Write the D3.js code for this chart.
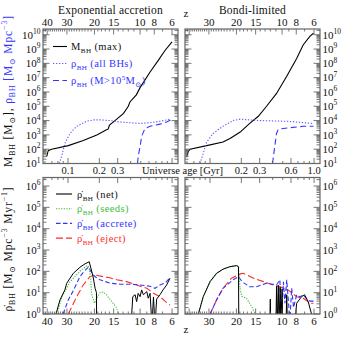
<!DOCTYPE html>
<html><head><meta charset="utf-8">
<script src="https://cdn.jsdelivr.net/npm/d3@7"></script>
<style>body{margin:0;background:#fff} svg{display:block} text{font-family:"Liberation Serif","DejaVu Serif",serif;fill:#111}</style>
</head><body><svg id="c" width="351" height="351"></svg>
<script>
// ---------- tick labels / categories ----------
const panelTitles = ["Exponential accretion", "Bondi-limited"];
const zTickLabelsLeft = [40, 30, 20, 15, 10, 8, 6];
const zTickLabelsRight = [30, 20, 15, 10, 8, 6];
const ageTickLabelsLeft = [0.1, 0.2, 0.3];
const ageTickLabelsRight = [0.2, 0.3, 0.6, 1.0];
const topDecades = [1,2,3,4,5,6,7,8,9,10];
const botDecades = [0,1,2,3,4,5,6];

// ---------- series: [z, value] ----------
// Exponential accretion, top
const expMbhMax = [[40.3,30],[39.4,79],[37.5,100],[29.4,178],[23.6,398],[19.3,1000],[16.7,2240],[16.3,2510],[16.0,4470],[15.9,5010],[14.7,1.0e4],[12.9,3.16e4],[12.0,1.0e5],[11.7,2.0e5],[10.6,6.3e5],[10.0,2.0e6],[8.55,2.5e7],[7.5,1.6e8],[6.73,7.9e8],[6.0,3.2e9]];
const expRhoAll = [[33.6,10],[32.4,32],[30.9,251],[28.7,1260],[26.0,3980],[22.5,8900],[20.3,1.12e4],[18.4,1.12e4],[15.9,1.0e4],[13.6,7900],[11.7,7100],[10.0,6300],[8.55,7100],[7.3,8900],[6.2,1.26e4]];
const expRhoBig = [[10.4,10],[10.3,32],[10.0,158],[9.76,794],[9.26,2820],[8.55,3980],[7.3,5620],[6.55,7940],[6.0,1.26e4]];
// Bondi-limited, top
const bonMbhMax = [[41.5,30],[40.6,68],[39.5,100],[31.0,178],[24.4,316],[22.0,562],[18.9,1580],[16.4,6300],[14.4,2.0e4],[12.7,1.0e5],[10.9,7.9e5],[9.3,1.26e7],[7.95,2.2e8],[7.15,2.0e9],[6.4,7.9e9],[6.05,1.26e10]];
const bonRhoAll = [[34.2,10],[32.6,50],[31.0,316],[28.2,1260],[24.4,3980],[21.0,1.0e4],[18.9,1.26e4],[16.4,1.12e4],[14.1,1.0e4],[9.3,8900],[6.05,6300]];
const bonRhoBig = [[11.6,10],[11.2,158],[10.9,1260],[10.6,2510],[8.85,3160],[7.15,3980],[6.05,3980]];
// Exponential accretion, bottom (rates)
const expNet = [[35.2,1],[33.2,4.6],[30.9,13.5],[30.1,27.5],[27.3,81],[24.8,155],[23.0,224],[21.6,282],[20.4,56],[19.8,16],[19.4,10],[19.35,0.3],
  [11.5,0.3],[11.2,6.5],[10.8,8],[10.55,3.8],[10.3,9.3],[10.0,6.5],[9.76,13.5],[9.5,8],[9.0,11.2],[8.8,5.5],[8.55,9.3],[8.3,0.3],[8.1,6.3],[7.9,0.3],[7.7,5],[7.3,8],[6.95,13.5],[6.55,23],[6.2,48]];
const expSeeds = [[34.7,1],[32.3,6.3],[28.7,32],[24.8,100],[22.3,190],[21.6,150],[21.1,40],[20.9,9.3],[20.0,3.2],[19.3,5.5],[18.4,10],[17.5,10.7],[16.7,7.8],[15.4,3.8],[14.3,1.9],[14.0,1]];
const expAccrete = [[31.7,1],[29.4,4.6],[27.3,12.6],[24.8,56],[23.0,112],[21.9,158],[21.1,100],[19.8,56],[18.4,40],[15.9,28],[13.6,25],[11.7,25],[10.0,23],[8.55,20],[7.9,16],[7.3,23],[6.73,28],[6.2,50]];
const expEject = [[29.4,1],[26.0,6.5],[23.6,23],[21.4,56],[19.8,68],[17.5,56],[15.9,50],[14.3,40],[12.3,33],[10.55,23],[9.0,16],[8.1,9.3],[7.3,6.5],[6.73,4],[6.2,2.6]];
// Bondi-limited, bottom (rates)
const bonNet = [[35.0,1],[32.6,6.5],[29.5,33],[26.8,81],[24.4,126],[22.0,166],[19.9,186],[19.4,166],[19.3,0.3],
  [12.1,0.3],[12.0,5],[11.9,0.3],[11.0,0.3],[10.9,20],[10.8,0.3],[10.6,22],[10.5,0.3],[10.3,18],[10.2,0.3],[10.0,15],[9.9,0.3],[9.4,0.3],[9.3,8],[9.2,0.3],
  [8.2,0.3],[7.95,3.2],[7.35,6.5],[7.0,8],[6.6,3.8],[6.25,1]];
const bonSeeds = [[35.0,1],[32.6,6.5],[29.5,33],[26.8,81],[24.4,126],[22.0,166],[19.9,186],[19.4,166],[18.9,13.5],[18.4,6.5],[17.2,5.5],[15.9,2.2],[15.1,1]];
const bonAccrete = [[29.5,1],[26.8,4.6],[24.4,16],[21.0,40],[19.4,56],[18.4,33],[16.4,19],[14.8,19],[12.7,28],[10.9,23],[10.35,40],[10.1,0.5],[9.8,32],[9.56,3.2],[9.3,40],[8.85,0.5],[8.6,16],[8.35,2],[7.95,8],[7.55,6.3],[7.15,8],[6.75,5],[6.4,4],[6.05,4]];
const bonEject = [[29.5,1],[26.8,4.6],[24.4,16],[21.5,48],[18.9,76],[18.1,81],[15.5,48],[13.3,33],[11.5,23],[10.35,19],[9.1,13.5],[7.95,6.5],[7.15,5.5],[6.4,3.2],[6.05,3.2]];

// ---------- layout ----------
const svg = d3.select("#c");
const PW = 135;
const colX = [43, 185];
const rowY = [29, 177.5];
const rowH = [134.5, 136.5];
const xz = d3.scaleLog().domain([43.5, 6.43]).range([0, PW]);
const xAge = d3.scaleLog().domain([0.0575, 1.14]).range([0, PW]);
const yTop = d3.scaleLog().domain([10, Math.pow(10, 10.4)]).range([rowH[0], 0]);
const yBot = d3.scaleLog().domain([1, Math.pow(10, 6.4)]).range([rowH[1], 0]);
const yS = [yTop, yBot];

const BLUE = "#3434ff", BLUE2 = "#5c5cff", GREEN = "#3cbb3c", RED = "#ff2a2a";
const FS = 11;

function rich(parent, x, y, segs, fs, anchor, transform, ls) {
  const t = parent.append("text").attr("x", x).attr("y", y).attr("font-size", fs)
    .attr("text-anchor", anchor || "start");
  if (transform) t.attr("transform", transform);
  if (ls) t.attr("letter-spacing", ls);
  let off = 0;
  segs.forEach(s => {
    const k = s[1] || "n";
    const target = k === "sub" ? fs * 0.3 : k === "sup" ? -fs * 0.42 : 0;
    const ts = t.append("tspan").text(s[0]).attr("dy", target - off);
    if (k !== "n") ts.attr("font-size", fs * 0.68);
    if (s[2]) ts.style("fill", s[2]);
    off = target;
  });
  return t;
}

const series = [
  [ [expMbhMax, "#000", null, 1.1], [expRhoAll, BLUE2, "1.3,1.7", 1.1], [expRhoBig, BLUE, "6,3.5", 1.1] ],
  [ [bonMbhMax, "#000", null, 1.1], [bonRhoAll, BLUE2, "1.3,1.7", 1.1], [bonRhoBig, BLUE, "6,3.5", 1.1] ],
  [ [expEject, RED, "7,3", 1.1], [expAccrete, BLUE, "4.5,2.5", 1.1], [expSeeds, GREEN, "1.2,1.4", 1.1], [expNet, "#000", null, 1] ],
  [ [bonEject, RED, "7,3", 1.1], [bonAccrete, BLUE, "4.5,2.5", 1.1], [bonSeeds, GREEN, "1.2,1.4", 1.1], [bonNet, "#000", null, 1] ]
];

const defs = svg.append("defs");
[0, 1].forEach(r => [0, 1].forEach(c => {
  const id = "clip" + r + c;
  defs.append("clipPath").attr("id", id).append("rect")
    .attr("x", 0).attr("y", 0).attr("width", PW).attr("height", rowH[r]);
  const g = svg.append("g").attr("transform", `translate(${colX[c]},${rowY[r]})`);
  const y = yS[r];
  const h = rowH[r];
  const plot = g.append("g").attr("clip-path", `url(#${id})`);
  const line = d3.line().x(d => xz(1 + d[0])).y(d => y(d[1]));
  series[r * 2 + c].forEach(s => {
    plot.append("path").datum(s[0]).attr("d", line).attr("fill", "none")
      .attr("stroke", s[1]).attr("stroke-width", s[3])
      .attr("stroke-dasharray", s[2]);
  });
  // ticks
  const tk = g.append("g").attr("stroke", "#555").attr("stroke-width", 0.8);
  const dom = y.domain();
  const e0 = Math.floor(Math.log10(dom[0])), e1 = Math.ceil(Math.log10(dom[1]));
  for (let e = e0; e <= e1; e++) for (let m = 1; m <= 9; m++) {
    const v = m * Math.pow(10, e);
    if (v < dom[0] || v > dom[1]) continue;
    const yy = y(v), L = m === 1 ? 6.5 : 3.5;
    tk.append("line").attr("x1", 0).attr("x2", L).attr("y1", yy).attr("y2", yy);
    tk.append("line").attr("x1", PW - L).attr("x2", PW).attr("y1", yy).attr("y2", yy);
  }
  const zMajor = c === 0 ? zTickLabelsLeft : zTickLabelsRight;
  for (let z = 6; z <= 43; z++) {
    const xx = xz(1 + z);
    if (xx < 0 || xx > PW) continue;
    const L = zMajor.includes(z) || z % 10 === 0 ? 5.5 : 2.5;
    if (r === 0) tk.append("line").attr("x1", xx).attr("x2", xx).attr("y1", 0).attr("y2", L);
    else tk.append("line").attr("x1", xx).attr("x2", xx).attr("y1", h - L).attr("y2", h);
  }
  const ageMajor = c === 0 ? ageTickLabelsLeft : ageTickLabelsRight;
  [0.06,0.07,0.08,0.09,0.1,0.2,0.3,0.4,0.5,0.6,0.7,0.8,0.9,1.0].forEach(a => {
    const xx = xAge(a);
    const L = ageMajor.includes(a) || a === 0.1 || a === 1.0 ? 5.5 : 2.5;
    if (r === 0) tk.append("line").attr("x1", xx).attr("x2", xx).attr("y1", h - L).attr("y2", h);
    else tk.append("line").attr("x1", xx).attr("x2", xx).attr("y1", 0).attr("y2", L);
  });
  g.append("rect").attr("width", PW).attr("height", h).attr("fill", "none")
    .attr("stroke", "#666").attr("stroke-width", 1.2);

  // y tick labels
  const decs = r === 0 ? topDecades : botDecades;
  decs.forEach(e => {
    const yy = y(Math.pow(10, e)) + 3.8;
    if (c === 0) rich(g, -2.5, yy, [["10"], [String(e), "sup"]], FS, "end");
    else rich(g, PW + 2.5, yy, [["10"], [String(e), "sup"]], FS, "start");
  });
  // x tick labels
  if (r === 0) {
    zMajor.forEach(z => g.append("text").attr("x", xz(1 + z)).attr("y", -3).attr("font-size", FS)
      .attr("text-anchor", "middle").text(z));
    ageMajor.forEach(a => g.append("text").attr("x", xAge(a)).attr("y", h + 10).attr("font-size", 10.5)
      .attr("text-anchor", "middle").text(a.toFixed(1)));
    g.append("text").attr("x", PW / 2).attr("y", -15).attr("font-size", 11.5).attr("letter-spacing", 0.2)
      .attr("text-anchor", "middle").text(panelTitles[c]);
  } else {
    zMajor.forEach(z => g.append("text").attr("x", xz(1 + z)).attr("y", h + 11).attr("font-size", FS)
      .attr("text-anchor", "middle").text(z));
  }
}));

// shared labels
svg.append("text").attr("x", 182.5).attr("y", 173.5).attr("font-size", 10.5).attr("text-anchor", "middle")
  .text("Universe age [Gyr]");
svg.append("text").attr("x", 186).attr("y", 17).attr("font-size", FS).attr("text-anchor", "middle").text("z");
svg.append("text").attr("x", 186).attr("y", 333).attr("font-size", FS).attr("text-anchor", "middle").text("z");

rich(svg, 0, 0, [["M"], ["BH", "sub"], [" [M"], ["\u2299", "sub"], ["], "],
  ["\u03c1", "n", BLUE], ["BH", "sub", BLUE], [" [M", "n", BLUE], ["\u2299", "sub", BLUE], [" Mpc", "n", BLUE], ["\u22123", "sup", BLUE], ["]", "n", BLUE]],
  11.5, "middle", "translate(12,91) rotate(-90)", 0.9);
rich(svg, 0, 0, [["\u03c1\u0307"], ["BH", "sub"], [" [M"], ["\u2299", "sub"], [" Mpc"], ["\u22123", "sup"], [" Myr"], ["\u22121", "sup"], ["]"]],
  11.5, "middle", "translate(12,249) rotate(-90)", 0.9);

// legends
const legTop = [
  ["#000", null, [["M"], ["BH", "sub"], [" (max)"]], "#111"],
  [BLUE2, "1.3,1.7", [["\u03c1"], ["BH", "sub"], [" (all BHs)"]], BLUE],
  [BLUE, "6,3.5", [["\u03c1"], ["BH", "sub"], [" (M>10"], ["5", "sup"], ["M"], ["\u2299", "sub"], [")"]], BLUE]
];
legTop.forEach((l, i) => {
  const yy = 46.5 + i * 17;
  svg.append("line").attr("x1", 53).attr("x2", 67).attr("y1", yy).attr("y2", yy)
    .attr("stroke", l[0]).attr("stroke-width", 1.1).attr("stroke-dasharray", l[1]);
  rich(svg, 71, yy + 3.5, l[2].map(s => [s[0], s[1], l[3]]), 10.5, "start", null, 0.4);
});
const legBot = [
  ["#000", null, "(net)", "#111"],
  [GREEN, "1.2,1.4", "(seeds)", GREEN],
  [BLUE, "4.5,2.5", "(accrete)", BLUE],
  [RED, "7,3", "(eject)", RED]
];
legBot.forEach((l, i) => {
  const yy = 194 + i * 14.7;
  svg.append("line").attr("x1", 56).attr("x2", 72).attr("y1", yy).attr("y2", yy)
    .attr("stroke", l[0]).attr("stroke-width", 1.1).attr("stroke-dasharray", l[1]);
  rich(svg, 77, yy + 3.5, [["\u03c1\u0307", "n", l[3]], ["BH", "sub", l[3]], [" " + l[2], "n", l[3]]], 10.5, "start", null, 0.4);
});
</script></body></html>
